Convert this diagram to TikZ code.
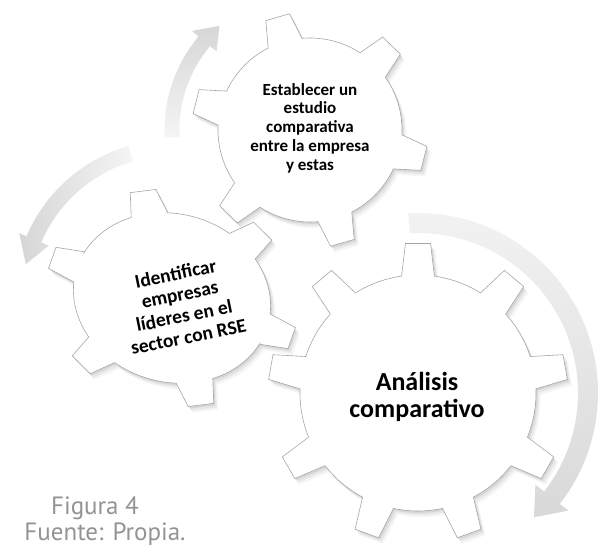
\documentclass[tikz,border=0pt]{standalone}
\usepackage{fontspec}
\newfontfamily\gearfont{Carlito}
\newfontfamily\capfont{PT Sans}
\newcommand\gearpath[6]{%
 ({#2-#5}:#3) \foreach \i in {1,...,#1}{ -- ({#2+(\i-1)*360/#1-#5}:#3) -- ({#2+(\i-1)*360/#1-#6}:#4) -- ({#2+(\i-1)*360/#1+#6}:#4) -- ({#2+(\i-1)*360/#1+#5}:#3) arc[start angle={#2+(\i-1)*360/#1+#5}, end angle={#2+\i*360/#1-#5}, radius=#3]} -- cycle}
\newcommand\onegear[7]{%
 \begin{scope}[shift={(1.5,-2)}]\begin{scope}[#1]\fill[black,opacity=.07] \gearpath{#2}{#3}{#4}{#5}{#6}{#7};\end{scope}\end{scope}
 \begin{scope}[shift={(3,-4)}]\begin{scope}[#1]\fill[black,opacity=.06] \gearpath{#2}{#3}{#4}{#5}{#6}{#7};\end{scope}\end{scope}
 \begin{scope}[shift={(4.5,-6)}]\begin{scope}[#1]\fill[black,opacity=.04] \gearpath{#2}{#3}{#4}{#5}{#6}{#7};\end{scope}\end{scope}
 \begin{scope}[#1]\filldraw[gearline] \gearpath{#2}{#3}{#4}{#5}{#6}{#7};\end{scope}}
\newcommand\curvearrow[8]{%
 \begin{scope}[shift={(#1)}]
 \shade[#8] (#4:{#2+#3}) arc[start angle=#4, end angle=#5, radius={#2+#3}] -- (#5:{#2+#7}) -- (#6:#2) -- (#5:{#2-#7}) -- (#5:{#2-#3}) arc[start angle=#5, end angle=#4, radius={#2-#3}] -- cycle;
 \end{scope}}
\begin{document}
\begin{tikzpicture}[x=1pt,y=1pt,
  gearline/.style={fill=white, draw=gray!70, line width=.6pt},
  geartext/.style={font=\gearfont\bfseries, align=center, inner sep=0pt, text=black},
  captext/.style={font=\capfont, text=gray!85!white, inner sep=0pt, anchor=base}]
\useasboundingbox (0,0) rectangle (603,548);
\clip (0,0) rectangle (603,548);
% arrows
\curvearrow{310,418}{138}{7.5}{183}{140}{131}{16}{top color=gray!32, bottom color=gray!8}
\curvearrow{172,250}{150}{8}{106}{157}{167}{16}{left color=gray!32, right color=gray!8}
\curvearrow{418,155}{170}{10}{93}{-38}{-47}{21}{top color=gray!10, bottom color=gray!30}
% gears
\onegear{shift={(310,418)}}{6}{46}{92}{118}{11}{6}
\onegear{shift={(172,250)}, rotate=-16, xscale=127, yscale=107}{6}{57}{0.785}{1}{11}{6}
\onegear{shift={(418,155)}}{9}{90}{118}{150}{8}{4.8}
% texts
\node[geartext, font=\gearfont\bfseries\fontsize{17}{18.8}\selectfont] (t1) at (310,420)
  {Establecer un\\estudio\\comparativa\\entre la empresa\\y estas};
\node[geartext, font=\gearfont\bfseries\fontsize{19.5}{21.5}\selectfont, rotate=11.5] (t2) at (182,243)
  {Identificar\\empresas\\líderes en el\\sector con RSE};
\node[geartext, font=\gearfont\bfseries\fontsize{26}{27.5}\selectfont] (t3) at (417,151)
  {Análisis\\comparativo};
\node[captext, font=\capfont\fontsize{25}{28}\selectfont] (c1) at (95,33) {Figura 4};
\node[captext, font=\capfont\fontsize{25}{28}\selectfont] (c2) at (105,7) {Fuente: Propia.};
\end{tikzpicture}
\end{document}
